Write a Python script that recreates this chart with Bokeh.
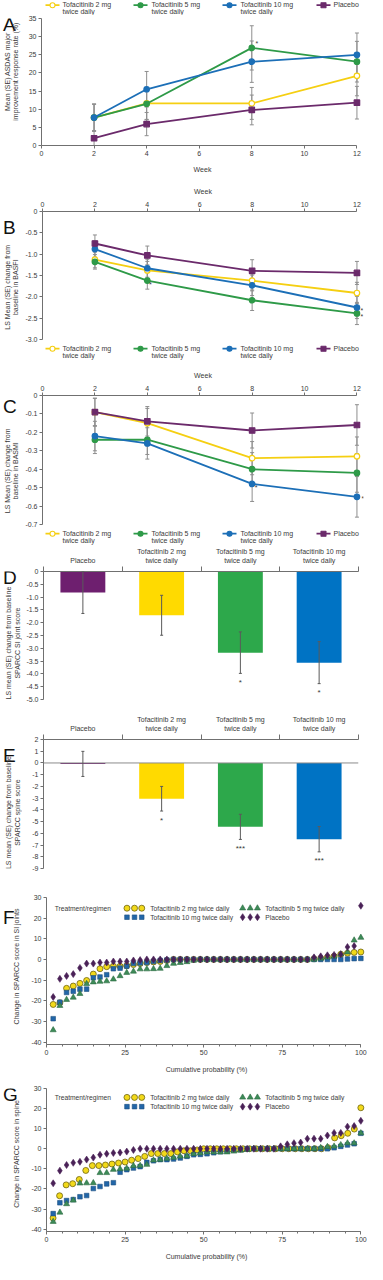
import math
from bokeh.plotting import figure
from bokeh.layouts import column, row
from bokeh.models import (Range1d, FixedTicker, PrintfTickFormatter, Whisker, TeeHead,
                          ColumnDataSource, Span)
from bokeh.core.properties import value
from bokeh.embed import file_html
from bokeh.resources import INLINE

FONT = "Liberation Sans"
W = 367
S = 22           # width of the side strip holding panel letter + y-axis title
PW = W - S       # width of each panel figure
TXT = "#3a3a3a"
AX = "#707070"

# ---------------- data ----------------
weeks = [2, 4, 8, 12]
week_ticks = [0, 2, 4, 6, 8, 10, 12]
arm_labels = ["Tofacitinib 2 mg\ntwice daily", "Tofacitinib 5 mg\ntwice daily",
              "Tofacitinib 10 mg\ntwice daily", "Placebo"]

# A: ASDAS major improvement (%)
asdas_2mg = [7.7, 11.6, 11.6, 19.2]
asdas_5mg = [7.7, 11.5, 26.9, 23.1]
asdas_10mg = [7.7, 15.5, 23.1, 25.0]
asdas_pbo = [2.0, 5.9, 9.8, 11.8]
asdas_se_2mg = [3.7, 4.4, 4.4, 5.5]
asdas_se_5mg = [3.7, 4.4, 6.1, 5.6]
asdas_se_10mg = [3.7, 4.9, 5.7, 6.0]
asdas_se_pbo = [2.0, 3.2, 4.1, 4.5]
asdas_ticks = [0, 5, 10, 15, 20, 25, 30, 35]

# B: BASFI
basfi_2mg = [-1.13, -1.38, -1.62, -1.91]
basfi_5mg = [-1.18, -1.62, -2.08, -2.39]
basfi_10mg = [-0.88, -1.33, -1.73, -2.25]
basfi_pbo = [-0.75, -1.03, -1.39, -1.44]
basfi_se_2mg = [0.19, 0.21, 0.24, 0.25]
basfi_se_5mg = [0.17, 0.20, 0.24, 0.26]
basfi_se_10mg = [0.19, 0.21, 0.24, 0.26]
basfi_se_pbo = [0.20, 0.22, 0.26, 0.27]
basfi_ticks = [0, -0.5, -1.0, -1.5, -2.0, -2.5, -3.0]

# C: BASMI
basmi_2mg = [-0.09, -0.15, -0.34, -0.33]
basmi_5mg = [-0.24, -0.24, -0.40, -0.42]
basmi_10mg = [-0.22, -0.26, -0.48, -0.55]
basmi_pbo = [-0.09, -0.14, -0.19, -0.16]
basmi_se_2mg = [0.075, 0.08, 0.09, 0.105]
basmi_se_5mg = [0.075, 0.08, 0.09, 0.105]
basmi_se_10mg = [0.08, 0.085, 0.095, 0.11]
basmi_se_pbo = [0.075, 0.08, 0.095, 0.11]
basmi_ticks = [0, -0.1, -0.2, -0.3, -0.4, -0.5, -0.6, -0.7]

# D / E bars (order: placebo, 2 mg, 5 mg, 10 mg)
bar_labels = ["Placebo", "Tofacitinib 2 mg\ntwice daily", "Tofacitinib 5 mg\ntwice daily",
              "Tofacitinib 10 mg\ntwice daily"]
sij_mean = [-0.82, -1.71, -3.17, -3.56]
sij_se = [0.82, 0.78, 0.81, 0.82]
sij_sig = ["", "", "*", "*"]
sij_ticks = [0, -0.5, -1.0, -1.5, -2.0, -2.5, -3.0, -3.5, -4.0, -4.5, -5.0]
spine_mean = [-0.08, -3.05, -5.45, -6.50]
spine_se = [1.07, 1.05, 1.07, 1.08]
spine_sig = ["", "*", "***", "***"]
spine_ticks = [2, 1, 0, -1, -2, -3, -4, -5, -6, -7, -8, -9]

# F: SPARCC SI joint change, sorted per arm
si_2mg = [-21.8, -21.0, -14.0, -12.9, -11.6, -10.2, -7.1, -4.5, -3.5, -3.3, -3.3, -3.0,
          -2.5, -2.0, -1.5, -1.2, -1.0, -0.5,
          0, 0, 0, 0, 0, 0, 0, 0, 0, 0, 0, 0, 0, 0, 0, 0, 0, 0, 0, 0, 0,
          0.3, 0.5, 1.0, 1.5, 2.5, 3.0, 3.4, 3.6]
si_10mg = [-28.7, -20.7, -16.0, -15.4, -14.4, -14.4, -8.9, -8.5, -7.4, -4.5, -4.2, -3.3,
           -2.0, -1.7, -1.5, -1.0, -0.5, -0.3,
           0, 0, 0, 0, 0, 0, 0, 0, 0, 0, 0, 0, 0, 0, 0, 0, 0, 0, 0, 0, 0, 0, 0, 0, 0, 0,
           0.2, 0.4, 0.5]
si_5mg = [-34.2, -22.4, -19.5, -18.4, -16.6, -11.8, -11.0, -10.7, -10.5, -9.6, -8.0, -6.4,
          -5.8, -4.7, -4.7, -4.6, -4.4, -3.1, -2.0, -1.6, -1.2, -0.5,
          0, 0, 0, 0, 0, 0, 0, 0, 0, 0, 0, 0, 0, 0, 0, 0, 0, 0,
          0.5, 1.0, 1.5, 2.5, 3.5, 9.3, 10.6]
si_pbo = [-18.2, -9.4, -8.0, -7.1, -4.1, -2.0, -2.0, -1.5, -1.5, -1.0, -1.0, -1.0, -0.5, -0.3,
          0, 0, 0, 0, 0, 0, 0, 0, 0, 0, 0, 0, 0, 0, 0, 0, 0, 0, 0, 0, 0, 0, 0, 0, 0,
          1.0, 1.5, 2.0, 2.2, 2.5, 6.0, 6.5, 26.0]

# G: SPARCC spine change, sorted per arm
sp_2mg = [-34.5, -23.4, -18.0, -17.4, -15.3, -10.8, -8.4, -8.4, -8.1, -7.6, -7.1, -6.6,
          -5.7, -4.9, -3.8, -2.4, -2.4, -2.4, -2.4, -1.6, -1.0, -1.0, -0.6,
          0, 0, 0, 0, 0, 0, 0, 0, 0, 0, 0, 0, 0, 0, 0, 0, 0, 0, 0,
          0.5, 5.4, 6.5, 7.7, 9.8, 20.4]
sp_10mg = [-32.3, -26.9, -25.8, -25.3, -23.9, -23.3, -19.8, -18.8, -17.5, -16.9, -11.7, -10.4,
           -9.6, -8.9, -6.8, -6.0, -5.4, -5.4, -5.1, -4.6, -3.8, -3.0, -2.8, -2.5, -2.0, -1.5,
           -1.0, -0.6, -0.3,
           0, 0, 0, 0, 0, 0, 0, 0, 0, 0, 0, 0, 0,
           0.5, 1.2, 1.9, 2.5, 7.7]
sp_5mg = [-36.3, -31.7, -27.5, -25.7, -17.2, -17.1, -17.0, -12.0, -12.0, -10.4, -10.1, -9.8,
          -8.5, -8.4, -7.9, -5.7, -5.4, -4.9, -4.4, -3.8, -3.6, -2.5, -2.2, -1.7, -1.7, -1.7,
          -1.7, -1.3, -0.9, -0.5,
          0, 0, 0, 0, 0, 0, 0, 0, 0, 0,
          0.5, 1.0, 1.2, 1.9, 2.8, 2.8, 7.8]
sp_pbo = [-17.2, -10.9, -8.1, -7.0, -6.5, -5.4, -4.4, -3.0, -2.5, -2.1, -1.9, -1.4, -0.6,
          0, 0, 0, 0, 0, 0, 0, 0, 0, 0, 0, 0, 0, 0, 0, 0, 0, 0, 0, 0, 0,
          1.2, 2.2, 2.8, 3.1, 5.0, 5.0, 5.0, 6.6, 7.9, 7.9, 11.0, 11.3, 13.9]
cum_ticks = [0, 25, 50, 75, 100]
cum_minor = [0, 5, 10, 15, 20, 25, 30, 35, 40, 45, 50, 55, 60, 65, 70, 75, 80, 85, 90, 95, 100]
sparcc_ticks = [30, 20, 10, 0, -10, -20, -30, -40]

# ---------------- styles ----------------
line_colors = ["#F5CF12", "#2E9A48", "#1C6FB7", "#6B2A6B"]
marker_fill = ["#FFFFFF", "#2E9A48", "#1C6FB7", "#6B2A6B"]
line_markers = ["circle", "circle", "circle", "square"]
bar_colors = ["#6E1F6F", "#FFDA00", "#2DA84B", "#0073C4"]

sc_styles = {
    "2mg": dict(marker="circle", size=6, fill_color="#F2D91A", line_color="#6f6412", line_width=0.8),
    "5mg": dict(marker="triangle", size=6, fill_color="#3D8B58", line_color="#2a6a3f", line_width=0.6),
    "10mg": dict(marker="square", size=4.6, fill_color="#2266A8", line_color="#1d4f80", line_width=0.6),
    "pbo": dict(marker="diamond", size=7, fill_color="#4A2157", line_color="#4A2157", line_width=0.6),
}


def style_axis(ax, label_standoff):
    ax.axis_line_color = AX
    ax.axis_line_width = 1
    ax.major_tick_line_color = AX
    ax.major_tick_in = 0
    ax.major_tick_out = 3
    ax.minor_tick_line_color = None
    ax.major_label_text_font = FONT
    ax.major_label_text_font_size = "7px"
    ax.major_label_text_color = TXT
    ax.major_label_standoff = 2
    ax.axis_label_text_font = FONT
    ax.axis_label_text_font_size = "7px"
    ax.axis_label_text_font_style = "normal"
    ax.axis_label_text_color = TXT
    ax.axis_label_standoff = label_standoff


def base_fig(h, xr, yr, left, right, top, bottom, xloc="below"):
    p = figure(width=PW, height=h, x_range=Range1d(*xr), y_range=Range1d(*yr),
               x_axis_location=xloc, toolbar_location=None, output_backend="svg",
               min_border_left=left, min_border_right=right,
               min_border_top=top, min_border_bottom=bottom)
    p.grid.visible = False
    p.outline_line_color = None
    return p


def side_fig(h, letter, ly, ylabel, lab_x, top, bottom):
    """Strip left of a panel: panel letter and the rotated y-axis title."""
    f = figure(width=S, height=h, x_range=Range1d(0, S), y_range=Range1d(0, h),
               x_axis_type=None, y_axis_type=None, toolbar_location=None,
               output_backend="svg", min_border=0)
    f.outline_line_color = None
    f.text(x=[2.5], y=[h - ly], text=[letter], text_font=value(FONT),
           text_font_size="19px", text_baseline="middle", text_align="left",
           text_color="#111111")
    mid = h - (top + (h - top - bottom) / 2)
    f.text(x=[lab_x], y=[mid], text=[ylabel], angle=math.pi / 2, text_font=value(FONT),
           text_font_size="7px", text_baseline="middle", text_align="center",
           text_line_height=1.25, text_color=TXT)
    return f


def legend_strip(h, y_top):
    f = figure(width=W, height=h, x_range=Range1d(0, W), y_range=Range1d(h, 0),
               x_axis_type=None, y_axis_type=None, toolbar_location=None,
               output_backend="svg", min_border=0)
    f.outline_line_color = None
    line_x = [45, 133, 222, 316]
    text_x = [62, 151, 240, 333]
    ymid = y_top + 4.2
    for k in range(4):
        f.segment(x0=[line_x[k]], y0=[ymid], x1=[line_x[k] + 14], y1=[ymid],
                  line_color=line_colors[k], line_width=1.8)
        f.scatter(x=[line_x[k] + 7], y=[ymid], marker=line_markers[k], size=5,
                  fill_color=marker_fill[k], line_color=line_colors[k], line_width=1.1)
        f.text(x=[text_x[k]], y=[y_top], text=[arm_labels[k]], text_baseline="top",
               text_font=value(FONT), text_font_size="7px", text_line_height=1.05,
               text_color=TXT)
    return f


LB_LINE = 41 - S


def line_panel(h, top, bottom, yr, yticks, fmt, ylabel, xloc, series, ses, sig,
               letter, ly, xlab_sd):
    p = base_fig(h, (0, 12.25), yr, LB_LINE, 4, top, bottom, xloc)
    xa, ya = p.xaxis[0], p.yaxis[0]
    style_axis(xa, xlab_sd)
    style_axis(ya, 0)
    xa.ticker = FixedTicker(ticks=week_ticks)
    xa.bounds = (0, 12)
    xa.axis_label = "Week"
    ya.ticker = FixedTicker(ticks=yticks)
    ya.formatter = PrintfTickFormatter(format=fmt)
    ya.major_label_overrides = {0: "0"}
    ppu_y = (h - top - bottom) / (yr[1] - yr[0])
    ppu_x = (PW - LB_LINE - 4) / 12.25
    for k in range(4):
        vals, se = series[k], ses[k]
        src = ColumnDataSource(dict(x=weeks, lo=[v - s for v, s in zip(vals, se)],
                                    hi=[v + s for v, s in zip(vals, se)]))
        p.add_layout(Whisker(source=src, base="x", lower="lo", upper="hi",
                             line_color="#8e8e8e", line_width=1,
                             upper_head=TeeHead(size=4, line_color="#8e8e8e", line_width=1),
                             lower_head=TeeHead(size=4, line_color="#8e8e8e", line_width=1)))
    for k in range(4):
        p.line(weeks, series[k], line_color=line_colors[k], line_width=1.8)
        p.scatter(weeks, series[k], marker=line_markers[k], size=5.5,
                  fill_color=marker_fill[k], line_color=line_colors[k], line_width=1.2)
    for (k, wi, dx, dy) in sig:
        p.text(x=[weeks[wi] + dx / ppu_x], y=[series[k][wi] + dy / ppu_y], text=["*"],
               text_font=value(FONT), text_font_size="7px", text_color=TXT,
               text_align="center", text_baseline="middle")
    side = side_fig(h, letter, ly, ylabel, 11, top, bottom)
    return row(side, p, spacing=0)


LB_BAR = 43 - S


def bar_panel(h, top, bottom, yr, yticks, fmt, ylabel, means, ses, sig, letter, ly, zero_line):
    p = base_fig(h, (0, 4), yr, LB_BAR, 9, top, bottom, "above")
    xa, ya = p.xaxis[0], p.yaxis[0]
    style_axis(xa, 3)
    style_axis(ya, 0)
    xs = [i + 0.5 for i in range(len(means))]
    xa.ticker = FixedTicker(ticks=xs, minor_ticks=[0, 1, 2, 3, 4])
    xa.major_tick_out = 0
    xa.minor_tick_line_color = AX
    xa.minor_tick_out = 5
    xa.minor_tick_in = 0
    xa.major_label_standoff = 3
    xa.major_label_overrides = {x: lab for x, lab in zip(xs, bar_labels)}
    ya.ticker = FixedTicker(ticks=yticks)
    ya.formatter = PrintfTickFormatter(format=fmt)
    ya.major_label_overrides = {0: "0"}
    if zero_line:
        p.add_layout(Span(location=0, dimension="width", line_color="#8c8c8c", line_width=1))
    p.vbar(x=xs, top=0, bottom=means, width=0.57, fill_color=bar_colors, line_color=None)
    lo = [m - s for m, s in zip(means, ses)]
    hi = [m + s for m, s in zip(means, ses)]
    src = ColumnDataSource(dict(x=xs, lo=lo, hi=hi))
    p.add_layout(Whisker(source=src, base="x", lower="lo", upper="hi", level="overlay",
                         line_color="#5a5a5a", line_width=1,
                         upper_head=TeeHead(size=3, line_color="#5a5a5a", line_width=1),
                         lower_head=TeeHead(size=3, line_color="#5a5a5a", line_width=1)))
    ppu_y = (h - top - bottom) / (yr[1] - yr[0])
    star_y = [l - 9 / ppu_y for l in lo]
    p.text(x=xs, y=star_y, text=sig, text_font=value(FONT), text_font_size="8px",
           text_color=TXT, text_align="center", text_baseline="middle")
    side = side_fig(h, letter, ly, ylabel, 12.5, top, bottom)
    return row(side, p, spacing=0)


LB_SC = 46 - S


def scatter_panel(h, top, bottom, series, ylabel, letter, ly, leg_px):
    p = base_fig(h, (0, 101.8), (-41.2, 30), LB_SC, 1, top, bottom)
    xa, ya = p.xaxis[0], p.yaxis[0]
    style_axis(xa, 8)
    style_axis(ya, 0)
    xa.ticker = FixedTicker(ticks=cum_ticks, minor_ticks=cum_minor)
    xa.bounds = (0, 100)
    xa.minor_tick_line_color = AX
    xa.minor_tick_out = 2
    xa.minor_tick_in = 0
    xa.axis_label = "Cumulative probability (%)"
    ya.ticker = FixedTicker(ticks=sparcc_ticks)
    ya.formatter = PrintfTickFormatter(format="%d")
    for key in ["2mg", "10mg", "5mg", "pbo"]:
        vals = series[key]
        n = len(vals)
        cum = [100.0 * (i + 1) / n for i in range(n)]
        p.scatter(cum, vals, **sc_styles[key])
    # legend inside the frame
    ppu_y = (h - top - bottom) / 71.2
    y1 = 30 - leg_px[0] / ppu_y
    y2 = 30 - leg_px[1] / ppu_y
    tk = dict(text_font=value(FONT), text_font_size="6.7px", text_color=TXT,
              text_baseline="middle")
    p.text(x=[20.5], y=[y1], text=["Treatment/regimen"], text_align="right", **tk)
    sym1 = [25.6, 28.0, 30.3]
    sym2 = [62.4, 64.8, 67.1]
    rows = [("2mg", sym1, y1, "Tofacitinib 2 mg twice daily", 33.0),
            ("5mg", sym2, y1, "Tofacitinib 5 mg twice daily", 69.6),
            ("10mg", sym1, y2, "Tofacitinib 10 mg twice daily", 33.0),
            ("pbo", sym2, y2, "Placebo", 69.6)]
    for key, sx, yy, lab, tx in rows:
        p.scatter(sx, [yy] * 3, **sc_styles[key])
        p.text(x=[tx], y=[yy], text=[lab], text_align="left", **tk)
    side = side_fig(h, letter, ly, ylabel, 15.5, top, bottom)
    return row(side, p, spacing=0)


legA = legend_strip(15, 0.5)
figA = line_panel(160, 3, 29, (0, 35), asdas_ticks, "%d",
                  "Mean (SE) ASDAS major\nimprovement response rate (%)", "below",
                  [asdas_2mg, asdas_5mg, asdas_10mg, asdas_pbo],
                  [asdas_se_2mg, asdas_se_5mg, asdas_se_10mg, asdas_se_pbo],
                  [(1, 2, 5, 4)], "A", 8, 7)
figB = line_panel(169, 36, 5, (-3, 0), basfi_ticks, "%.1f",
                  "LS Mean (SE) change from\nbaseline in BASFI", "above",
                  [basfi_2mg, basfi_5mg, basfi_10mg, basfi_pbo],
                  [basfi_se_2mg, basfi_se_5mg, basfi_se_10mg, basfi_se_pbo],
                  [(1, 1, 3, -4), (2, 3, 5, -3), (1, 3, 5, -3)], "B", 20.6, 4)
legB = legend_strip(18, 0)
figC = line_panel(167, 33, 5, (-0.7, 0), basmi_ticks, "%.1f",
                  "LS Mean (SE) change from\nbaseline in BASMI", "above",
                  [basmi_2mg, basmi_5mg, basmi_10mg, basmi_pbo],
                  [basmi_se_2mg, basmi_se_5mg, basmi_se_10mg, basmi_se_pbo],
                  [(2, 2, 4, -4), (2, 3, 6, -2)], "C", 14.7, 4)
legC = legend_strip(16, 0)
figD = bar_panel(161, 26, 7, (-5, 0), sij_ticks, "%.1f",
                 "LS mean (SE) change from baseline\nSPARCC SI joint score",
                 sij_mean, sij_se, sij_sig, "D", 8, False)
figE = bar_panel(172, 33, 10, (-9, 2), spine_ticks, "%d",
                 "LS mean (SE) change from baseline\nSPARCC spine score",
                 spine_mean, spine_se, spine_sig, "E", 20.7, True)
figF = scatter_panel(197, 19, 31,
                     {"2mg": si_2mg, "5mg": si_5mg, "10mg": si_10mg, "pbo": si_pbo},
                     "Change in SPARCC score in SI joints", "F", 26.2, (10.7, 19.7))
figG = scatter_panel(187, 13, 29,
                     {"2mg": sp_2mg, "5mg": sp_5mg, "10mg": sp_10mg, "pbo": sp_pbo},
                     "Change in SPARCC score in spine", "G", 8, (9.0, 18.4))

layout = column(legA, figA, figB, legB, figC, legC, figD, figE, figF, figG, spacing=0)
open("out.html", "w").write(file_html(layout, INLINE))
